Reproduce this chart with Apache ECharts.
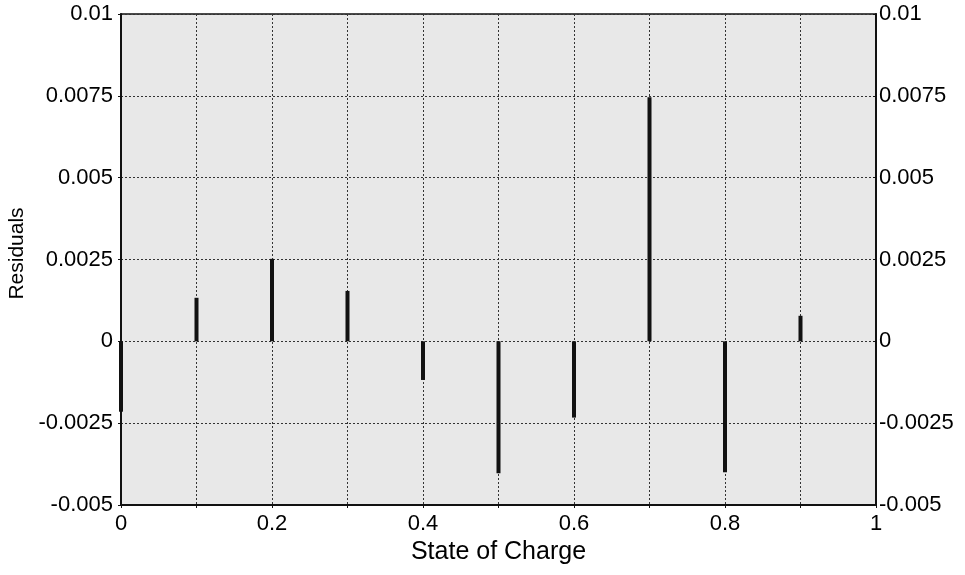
<!DOCTYPE html>
<html>
<head>
<meta charset="utf-8">
<script src="https://cdn.jsdelivr.net/npm/echarts@6/dist/echarts.min.js"></script>
<style>
html,body{margin:0;padding:0;background:#fff;}
#chart{width:965px;height:575px;}
</style>
</head>
<body>
<div id="chart"></div>
<script>
// State of charge positions and residual values
const stateOfCharge = [0, 0.1, 0.2, 0.3, 0.4, 0.5, 0.6, 0.7, 0.8, 0.9];
const residuals = [-0.00215, 0.00133, 0.00252, 0.00154, -0.00118, -0.00403, -0.00233, 0.00746, -0.00400, 0.00078];
const xTickLabels = ['0', '0.2', '0.4', '0.6', '0.8', '1'];
const yTickLabels = ['-0.005', '-0.0025', '0', '0.0025', '0.005', '0.0075', '0.01'];

const chart = echarts.init(document.getElementById('chart'), null, {renderer:'canvas'});
const FONT = 'Liberation Sans, Arial, sans-serif';
function yFmt(v){
  const r = String(Math.round(v*10000)/10000);
  return yTickLabels.indexOf(r) >= 0 ? r : '';
}
function xFmt(v){
  const r = String(Math.round(v*10)/10);
  return xTickLabels.indexOf(r) >= 0 ? r : '';
}
const gridLine = {show:true, lineStyle:{color:'#333', type:[2,2], width:1}};
chart.setOption({
  animation:false,
  backgroundColor:'#fff',
  grid:{left:121, right:89, top:14, bottom:70, containLabel:false, outerBoundsMode:'none',
        show:true, backgroundColor:'#e8e8e8', borderColor:'#111', borderWidth:1.5},
  xAxis:{
    type:'value', min:0, max:1, interval:0.1,
    name:'State of Charge', nameLocation:'middle', nameGap:33,
    nameTextStyle:{fontFamily:FONT, fontSize:25, color:'#000'},
    axisLine:{show:true, onZero:false, lineStyle:{color:'#111', width:2}},
    axisTick:{show:true, length:3, lineStyle:{color:'#111'}},
    axisLabel:{fontFamily:FONT, fontSize:22, color:'#000', margin:8, formatter:xFmt},
    splitLine:gridLine
  },
  yAxis:[{
    type:'value', min:-0.005, max:0.01, interval:0.0025, position:'left',
    name:'Residuals', nameLocation:'middle', nameGap:92, nameRotate:90,
    nameTextStyle:{fontFamily:FONT, fontSize:21, color:'#000', padding:[0,0,0,12]},
    axisLine:{show:true, onZero:false, lineStyle:{color:'#111', width:2}},
    axisTick:{show:true, length:3, lineStyle:{color:'#111'}},
    axisLabel:{fontFamily:FONT, fontSize:22, color:'#000', margin:8, formatter:yFmt},
    splitLine:gridLine
  },{
    type:'value', min:-0.005, max:0.01, interval:0.0025, position:'right',
    axisLine:{show:true, onZero:false, lineStyle:{color:'#111', width:2}},
    axisTick:{show:true, length:3, inside:true, lineStyle:{color:'#111'}},
    axisLabel:{fontFamily:FONT, fontSize:22, color:'#000', margin:3, formatter:yFmt},
    splitLine:{show:false}
  }],
  series:[{
    type:'bar',
    barWidth:4,
    itemStyle:{color:'#111'},
    data:stateOfCharge.map((x,i)=>[x, residuals[i]])
  }]
});
</script>
</body>
</html>
